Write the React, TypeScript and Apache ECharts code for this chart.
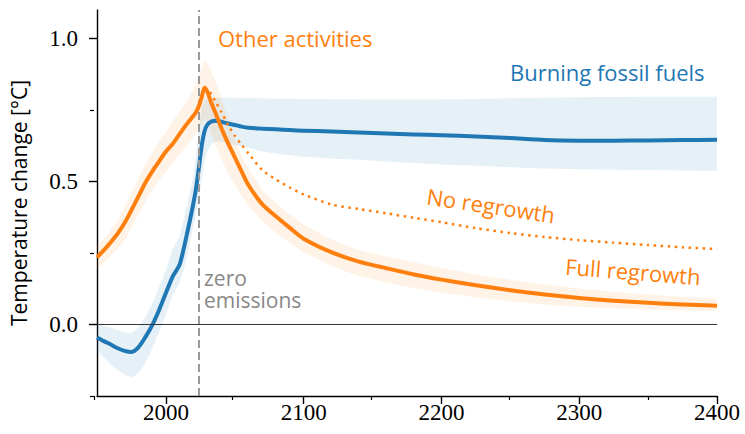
import React, { useEffect, useRef } from "react";
import * as echarts from "echarts";

// Simulated warming from forest loss vs. fossil fuel burning, with zero emissions from 2023.
const years = [
  1950, 1955, 1960, 1965, 1970, 1975, 1980, 1985, 1990, 1995, 2000, 2005, 2010, 2015, 2020,
  2022, 2024, 2026, 2028, 2030, 2033, 2036, 2040, 2045, 2050, 2055, 2060, 2070, 2080, 2090,
  2100, 2120, 2140, 2160, 2180, 2200, 2225, 2250, 2275, 2300, 2325, 2350, 2375, 2400,
];

// "Other activities", full regrowth after zero emissions (median and spread)
const otherFull = [
  0.235, 0.26, 0.288, 0.318, 0.355, 0.4, 0.447, 0.495, 0.535, 0.57, 0.605, 0.632, 0.667, 0.7, 0.73,
  0.743, 0.765, 0.795, 0.828, 0.815, 0.775, 0.74, 0.69, 0.635, 0.585, 0.535, 0.487, 0.42, 0.378, 0.338,
  0.3, 0.253, 0.22, 0.197, 0.175, 0.157, 0.137, 0.12, 0.105, 0.093, 0.083, 0.076, 0.07, 0.066,
];
const otherHigh = [
  0.275, 0.3, 0.33, 0.365, 0.41, 0.46, 0.51, 0.56, 0.6, 0.64, 0.675, 0.71, 0.745, 0.78, 0.82,
  0.845, 0.87, 0.9, 0.925, 0.915, 0.885, 0.85, 0.795, 0.72, 0.645, 0.59, 0.545, 0.47, 0.425, 0.385,
  0.35, 0.297, 0.26, 0.238, 0.218, 0.198, 0.175, 0.156, 0.14, 0.126, 0.114, 0.105, 0.097, 0.091,
];
const otherLow = [
  0.195, 0.215, 0.24, 0.265, 0.295, 0.34, 0.385, 0.43, 0.47, 0.505, 0.535, 0.565, 0.595, 0.625, 0.655,
  0.665, 0.68, 0.7, 0.72, 0.71, 0.665, 0.63, 0.585, 0.53, 0.49, 0.45, 0.415, 0.36, 0.32, 0.285,
  0.252, 0.205, 0.17, 0.147, 0.128, 0.112, 0.095, 0.081, 0.07, 0.062, 0.057, 0.053, 0.05, 0.048,
];

// "Other activities", no regrowth (only after the peak)
const otherNoRegrowth = [
  null, null, null, null, null, null, null, null, null, null, null, null, null, null, null,
  null, null, null, 0.828, 0.822, 0.805, 0.78, 0.745, 0.7, 0.66, 0.628, 0.598, 0.54, 0.507, 0.479,
  0.455, 0.42, 0.404, 0.389, 0.373, 0.358, 0.337, 0.32, 0.306, 0.295, 0.286, 0.278, 0.27, 0.264,
];

// "Burning fossil fuels" (median and spread)
const fossil = [
  -0.045, -0.058, -0.07, -0.083, -0.092, -0.096, -0.08, -0.045, -0.003, 0.05, 0.11, 0.168, 0.21, 0.31, 0.425,
  0.48, 0.55, 0.625, 0.675, 0.698, 0.71, 0.713, 0.709, 0.703, 0.698, 0.692, 0.688, 0.685, 0.683, 0.68,
  0.678, 0.675, 0.672, 0.668, 0.665, 0.662, 0.658, 0.652, 0.645, 0.643, 0.643, 0.644, 0.645, 0.646,
];
const fossilHigh = [
  0.0, -0.005, -0.01, -0.02, -0.028, -0.03, -0.01, 0.025, 0.07, 0.13, 0.19, 0.265, 0.31, 0.41, 0.52,
  0.6, 0.69, 0.76, 0.785, 0.79, 0.792, 0.793, 0.793, 0.793, 0.793, 0.792, 0.792, 0.791, 0.79, 0.79,
  0.789, 0.788, 0.787, 0.786, 0.786, 0.787, 0.789, 0.791, 0.793, 0.795, 0.796, 0.797, 0.797, 0.797,
];
const fossilLow = [
  -0.09, -0.115, -0.14, -0.16, -0.175, -0.185, -0.17, -0.135, -0.085, -0.025, 0.035, 0.105, 0.145, 0.23, 0.345,
  0.39, 0.44, 0.51, 0.57, 0.605, 0.63, 0.64, 0.64, 0.635, 0.627, 0.622, 0.618, 0.605, 0.598, 0.592,
  0.587, 0.581, 0.576, 0.57, 0.565, 0.56, 0.555, 0.55, 0.546, 0.543, 0.541, 0.54, 0.539, 0.538,
];

const zeroEmissionsYear = 2023.5;

const xMajorTicks = [2000, 2100, 2200, 2300, 2400];
const xMinorTicks = [1950, 2050, 2150, 2250, 2350];
const yMajorTicks = [0, 0.5, 1.0];
const yMinorTicks = [-0.25, 0.25, 0.75];

const BLUE = "#1f77b4";
const ORANGE = "#ff7f0e";
const SANS = "'Open Sans', sans-serif";
const SERIF = "'Liberation Serif', serif";

const pairs = (vals: (number | null)[]) =>
  years.map((y, i) => [y, vals[i]] as [number, number | null]).filter((p) => p[1] !== null);

// Spread band: one polygon along the upper edge and back along the lower edge.
function bandSeries(name: string, lo: number[], hi: number[], color: string) {
  return {
    type: "custom",
    name,
    data: years.map((y, i) => [y, lo[i], hi[i]]),
    encode: { x: 0, y: [1, 2] },
    silent: true,
    clip: true,
    z: 1,
    renderItem: (params: any, api: any) => {
      if (params.dataIndex !== 0) return null;
      const upper = years.map((y, i) => api.coord([y, hi[i]]));
      const lower = years.map((y, i) => api.coord([y, lo[i]])).reverse();
      return {
        type: "polygon",
        shape: { points: upper.concat(lower) },
        style: { fill: color },
      };
    },
  };
}

const grid = { left: 94, right: 28, top: 10, bottom: 38 };

const option = {
  animation: false,
  grid: [grid, { ...grid }],
  xAxis: [
    {
      type: "value",
      gridIndex: 0,
      min: 1950,
      max: 2400,
      axisLine: { show: true, onZero: false, lineStyle: { color: "#000", width: 1.4 } },
      axisTick: { show: true, length: 8, customValues: xMajorTicks, lineStyle: { color: "#000", width: 1.4 } },
      axisLabel: {
        customValues: xMajorTicks,
        formatter: (v: number) => String(v),
        fontFamily: SERIF,
        fontSize: 23,
        color: "#000",
        margin: 5,
      },
      splitLine: { show: false },
    },
    {
      type: "value",
      gridIndex: 1,
      min: 1950,
      max: 2400,
      axisLine: { show: false, onZero: false },
      axisTick: { show: true, length: 4, customValues: xMinorTicks, lineStyle: { color: "#000", width: 1.2 } },
      axisLabel: { show: false },
      splitLine: { show: false },
    },
  ],
  yAxis: [
    {
      type: "value",
      gridIndex: 0,
      min: -0.25,
      max: 1.1,
      name: "Temperature change [°C]",
      nameLocation: "middle",
      nameGap: 68,
      nameRotate: 90,
      nameTextStyle: { fontFamily: SANS, fontSize: 21, color: "#000" },
      axisLine: { show: true, onZero: false, lineStyle: { color: "#000", width: 1.4 } },
      axisTick: { show: true, length: 8, customValues: yMajorTicks, lineStyle: { color: "#000", width: 1.4 } },
      axisLabel: {
        customValues: yMajorTicks,
        formatter: (v: number) => v.toFixed(1),
        fontFamily: SERIF,
        fontSize: 23,
        color: "#000",
        margin: 19,
      },
      splitLine: { show: false },
    },
    {
      type: "value",
      gridIndex: 1,
      min: -0.25,
      max: 1.1,
      axisLine: { show: false, onZero: false },
      axisTick: { show: true, length: 4, customValues: yMinorTicks, lineStyle: { color: "#000", width: 1.2 } },
      axisLabel: { show: false },
      splitLine: { show: false },
    },
  ],
  series: [
    bandSeries("fossilBand", fossilLow, fossilHigh, "rgba(31,119,180,0.11)"),
    bandSeries("otherBand", otherLow, otherHigh, "rgba(255,127,14,0.1)"),
    {
      type: "line",
      name: "reference lines",
      data: [],
      silent: true,
      z: 2,
      markLine: {
        silent: true,
        symbol: ["none", "none"],
        label: { show: false },
        emphasis: { disabled: true },
        animation: false,
        data: [
          { yAxis: 0, lineStyle: { color: "#333", width: 1, type: "solid" } },
          { xAxis: zeroEmissionsYear, lineStyle: { color: "#999", width: 2, type: [8, 4] } },
        ],
      },
    },
    {
      type: "line",
      name: "Burning fossil fuels",
      data: pairs(fossil),
      symbol: "none",
      smooth: 0.25,
      lineStyle: { color: BLUE, width: 4, join: "round" },
      z: 3,
    },
    {
      type: "line",
      name: "No regrowth",
      data: pairs(otherNoRegrowth),
      symbol: "none",
      smooth: 0.25,
      lineStyle: { color: ORANGE, width: 2.5, type: [2.5, 4.5] },
      z: 4,
    },
    {
      type: "line",
      name: "Full regrowth",
      data: pairs(otherFull),
      symbol: "none",
      smooth: 0.25,
      lineStyle: { color: ORANGE, width: 4, join: "round" },
      z: 5,
    },
  ],
  graphic: [
    {
      type: "text",
      x: 218,
      y: 38,
      style: { text: "Other activities", fill: ORANGE, font: `22px ${SANS}`, align: "left", verticalAlign: "middle" },
    },
    {
      type: "text",
      x: 510,
      y: 72,
      style: { text: "Burning fossil fuels", fill: BLUE, font: `22px ${SANS}`, align: "left", verticalAlign: "middle" },
    },
    {
      type: "text",
      x: 491,
      y: 205,
      rotation: -0.148,
      style: { text: "No regrowth", fill: ORANGE, font: `22px ${SANS}`, align: "center", verticalAlign: "middle" },
    },
    {
      type: "text",
      x: 633,
      y: 271,
      rotation: -0.078,
      style: { text: "Full regrowth", fill: ORANGE, font: `22px ${SANS}`, align: "center", verticalAlign: "middle" },
    },
    {
      type: "text",
      x: 204,
      y: 289,
      style: {
        text: "zero\nemissions",
        fill: "#888",
        font: `21px ${SANS}`,
        lineHeight: 22,
        align: "left",
        verticalAlign: "middle",
      },
    },
  ],
};

export default function App() {
  const ref = useRef<HTMLDivElement>(null);
  useEffect(() => {
    if (!ref.current) return;
    const chart = echarts.init(ref.current, null, { renderer: "svg" });
    chart.setOption(option as any);
    return () => chart.dispose();
  }, []);
  return (
    <div
      ref={ref}
      style={{ position: "fixed", left: 0, top: 0, width: 745, height: 434, background: "#fff" }}
    />
  );
}
